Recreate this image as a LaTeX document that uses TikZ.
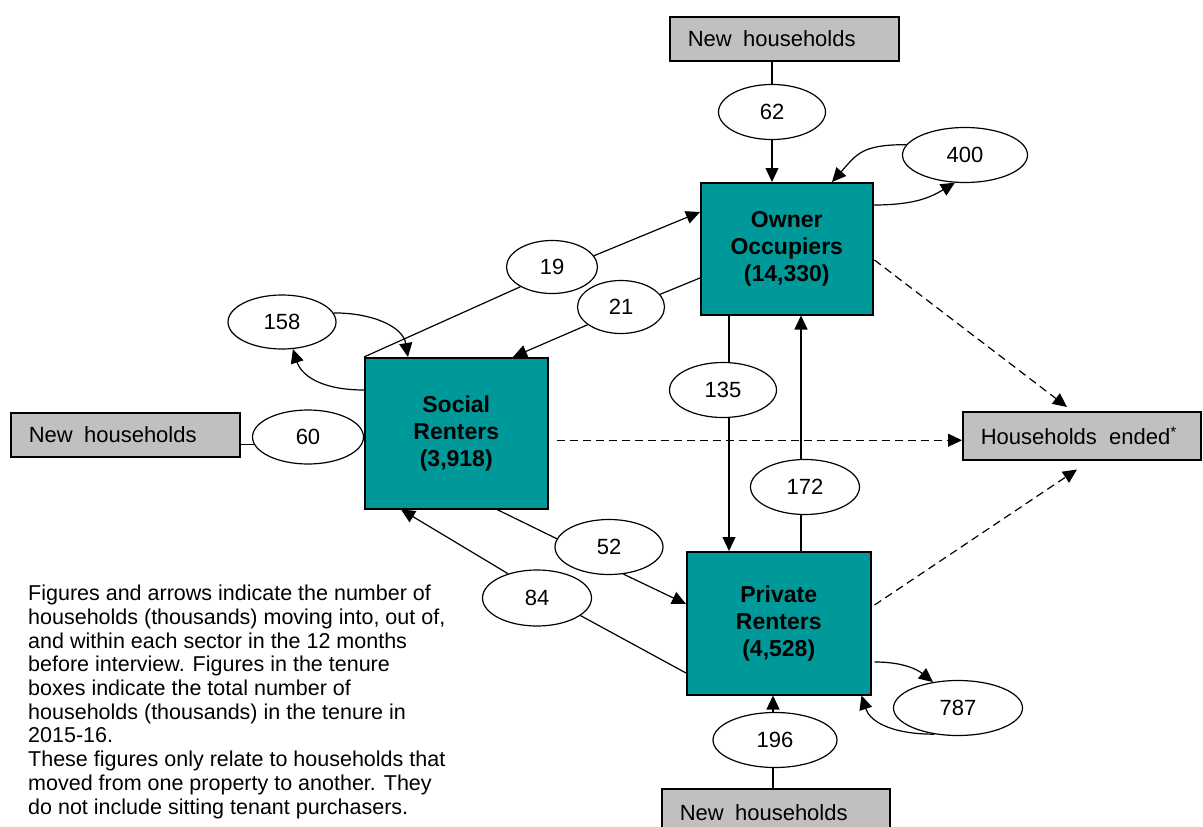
\documentclass[tikz,border=0pt]{standalone}
\usepackage{fontspec}
\setmainfont{Liberation Sans}
\usetikzlibrary{arrows.meta,shapes.geometric,calc}
\definecolor{tenurefill}{HTML}{009999}
\definecolor{boxgray}{HTML}{C0C0C0}
\begin{document}
\begin{tikzpicture}[x=1pt,y=-1pt,
  tenure/.style={draw=black, line width=1.5pt, fill=tenurefill, inner sep=0pt,
    font=\fontsize{23}{27}\selectfont\bfseries, align=center, anchor=north west},
  graybox/.style={draw=black, line width=1.5pt, fill=boxgray, inner ysep=0pt, inner xsep=18pt,
    font=\fontsize{22}{26}\selectfont, align=left, anchor=north west},
  oval/.style={ellipse, draw=black, line width=1.2pt, fill=white, inner sep=0pt,
    font=\fontsize{22}{26}\selectfont},
  flow/.style={line width=1.2pt, -{Triangle[length=14pt,width=13pt]}},
  plain/.style={line width=1.2pt},
  gone/.style={flow, dash pattern=on 8pt off 5pt}
]
\useasboundingbox (0,0) rectangle (1203,827);

% grey boxes
\node[graybox, minimum width=229pt, minimum height=44pt, text width=193pt] (nhTop) at (669,16) {New\hspace{4pt} households};
\node[graybox, minimum width=229pt, minimum height=44pt, text width=193pt] (nhLeft) at (10,412) {New\hspace{4pt} households};
\node[graybox, minimum width=228pt, minimum height=48pt, text width=192pt] (nhBot) at (661,788) {New\hspace{4pt} households};
\node[graybox, minimum width=238pt, minimum height=48pt, text width=202pt] (ended) at (962,411) {Households\hspace{5pt} ended\textsuperscript{*}};

% tenure boxes
\node[tenure, minimum width=172pt, minimum height=132pt] (own) at (700,182) {Owner\\Occupiers\\(14,330)};
\node[tenure, minimum width=183pt, minimum height=151pt] (soc) at (364,357) {Social\\Renters\\(3,918)};
\node[tenure, minimum width=184pt, minimum height=143pt] (priv) at (686,551) {Private\\Renters\\(4,528)};

% flow ovals
\node[oval, minimum width=107pt, minimum height=55pt] (e62) at (772,112) {62};
\node[oval, minimum width=125pt, minimum height=55pt] (e400) at (965,155) {400};
\node[oval, minimum width=108pt, minimum height=54pt] (e158) at (282,322) {158};
\node[oval, minimum width=111pt, minimum height=54pt] (e60) at (308,437) {60};
\node[oval, minimum width=91pt, minimum height=53pt] (e19) at (552,267) {19};
\node[oval, minimum width=87pt, minimum height=53pt] (e21) at (621,307) {21};
\node[oval, minimum width=107pt, minimum height=55pt] (e135) at (723,390) {135};
\node[oval, minimum width=109pt, minimum height=55pt] (e172) at (805,487) {172};
\node[oval, minimum width=108pt, minimum height=55pt] (e52) at (609,547) {52};
\node[oval, minimum width=109pt, minimum height=56pt] (e84) at (537,598) {84};
\node[oval, minimum width=129pt, minimum height=55pt] (e787) at (958,708) {787};
\node[oval, minimum width=124pt, minimum height=55pt] (e196) at (775,740) {196};

% new households -> owners
\draw[plain] (e62.north) -- (e62.north |- nhTop.south);
\draw[flow] (e62.south) -- (e62.south |- own.north);

% owner moves within
\draw[flow] (e400.170) .. controls +(-45,0) and +(25,-28) .. ([xshift=132pt]own.north west);
\draw[flow] ([yshift=-23pt]own.north east) .. controls +(40,0) and +(-25,15) .. (e400.250);

% social moves within
\draw[flow] (e158.10) .. controls +(40,0) and +(-5,-30) .. ([xshift=44pt]soc.north west);
\draw[flow] ([yshift=-33pt]soc.north west) .. controls +(-45,0) and +(8,25) .. (e158.292);

% social -> owner (19)
\draw[plain] (soc.north west) -- (e19.212);
\draw[flow] (e19.15) -- ([yshift=-30pt]own.north west);

% owner -> social (21)
\draw[plain] ([yshift=-96pt]own.north west) -- (e21.18);
\draw[flow] (e21.208) -- ([xshift=149pt]soc.north west);

% owner -> private (135)
\coordinate (p135) at ([xshift=43pt]priv.north west);
\draw[plain] (p135 |- own.south) -- (p135 |- e135.north);
\draw[flow] (p135 |- e135.south) -- (p135);

% private -> owner (172)
\coordinate (p172) at ([xshift=115pt]priv.north west);
\draw[plain] (p172) -- (p172 |- e172.south);
\draw[flow] (p172 |- e172.north) -- (p172 |- own.south);

% social -> private (52)
\draw[plain] ([xshift=133pt]soc.south west) -- (e52.171);
\draw[flow] (e52.298) -- ([yshift=-53pt]priv.north west);

% private -> social (84)
\draw[plain] ([yshift=-122pt]priv.north west) -- (e84.338);
\draw[flow] (e84.140) -- ([xshift=37pt]soc.south west);

% new households -> social (60)
\draw[plain] (e60.188) -- (e60.188 -| nhLeft.east);

% new households -> private (196)
\coordinate (p196) at ([xshift=87pt]priv.south west);
\draw[plain] (p196 |- nhBot.north) -- (p196 |- e196.south);
\draw[flow] (p196 |- e196.north) -- (p196);

% private moves within (787)
\draw[flow] ([xshift=3pt,yshift=-111pt]priv.north east) .. controls +(30,0) and +(-15,-12) .. (e787.134);
\draw[flow] (e787.228) .. controls +(-45,0) and +(8,25) .. ([xshift=-10pt]priv.south east);

% households ended
\draw[gone] ([xshift=1pt,yshift=-78pt]own.north east) -- ([xshift=105pt,yshift=4pt]ended.north west);
\coordinate (sd) at ([xshift=8pt,yshift=-7pt]soc.east);
\draw[gone] (sd) -- (sd -| ended.west);
\draw[gone] ([xshift=3pt,yshift=-54pt]priv.north east) -- ([xshift=115pt,yshift=-9pt]ended.south west);

% note
\node[anchor=north west, inner sep=0pt, align=left, font=\fontsize{21.5}{23.7}\selectfont] (note) at (28,585)
{Figures and arrows indicate the number of\\
households (thousands) moving into, out of,\\
and within each sector in the 12 months\\
before interview. Figures in the tenure\\
boxes indicate the total number of\\
households (thousands) in the tenure in\\
2015-16.\\
These figures only relate to households that\\
moved from one property to another. They\\
do not include sitting tenant purchasers.};
\end{tikzpicture}
\end{document}
